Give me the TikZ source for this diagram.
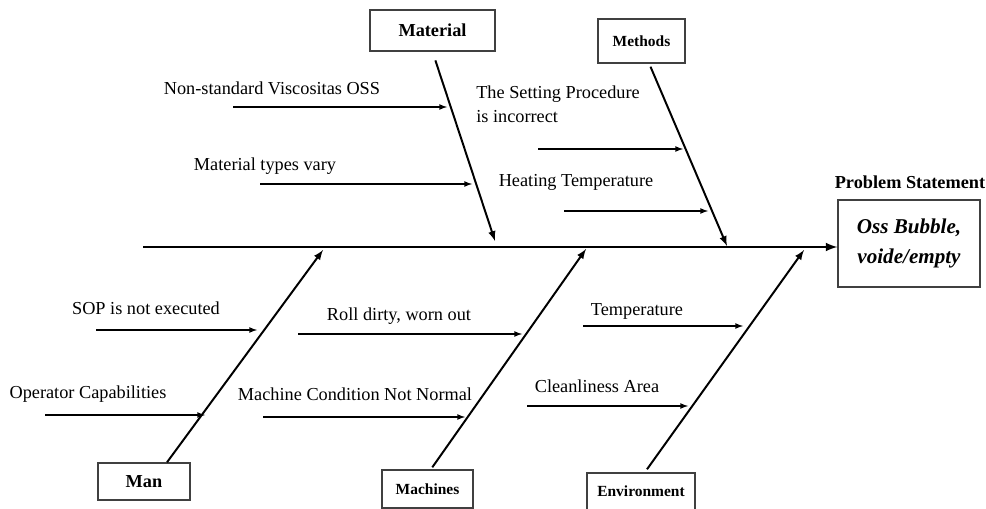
\documentclass[tikz,border=0pt]{standalone}
\usepackage{fontspec}
\setmainfont{Liberation Serif}
\begin{document}
\begin{tikzpicture}[x=0.25mm,y=-0.25mm,-latex,
    head/.style={draw=black!75,line width=1pt,inner sep=0pt,font=\fontsize{13}{15}\selectfont\bfseries},
    smallhead/.style={head,font=\fontsize{11}{13}\selectfont\bfseries},
    cause/.style={inner sep=0pt,font=\fontsize{13}{17}\selectfont},
    spine/.style={line width=1.8pt},
    bone/.style={line width=1.4pt},
    rib/.style={line width=0.9pt}]
  \useasboundingbox (0,0) rectangle (986,509);
  % heads
  \node[head,minimum width=31.25mm,minimum height=10.25mm] (material) at (432.5,30.5) {Material};
  \node[smallhead,minimum width=21.75mm,minimum height=11mm] (methods) at (641.5,41) {Methods};
  \node[head,minimum width=23mm,minimum height=9.25mm] (man) at (144,481.5) {Man};
  \node[smallhead,minimum width=22.75mm,minimum height=9.5mm] (machines) at (427.5,489) {Machines};
  \node[smallhead,minimum width=27mm,minimum height=9.25mm] (environment) at (641,491.5) {Environment};
  \node[head,minimum width=35.5mm,minimum height=21.75mm,align=center,
        font=\fontsize{15}{21}\selectfont\bfseries\itshape] (problem) at (909,243.5) {Oss Bubble,\\voide/empty};
  \node[cause,font=\fontsize{13}{15}\selectfont\bfseries] (statement) at (910,182) {Problem Statement};
  % spine
  \coordinate (tail) at (143,247);
  \draw[spine] (tail) -- (tail -| problem.west);
  % bones
  \coordinate (materialE) at (495,241);
  \coordinate (methodsE) at (727,246);
  \coordinate (manE) at (323,250);
  \coordinate (machinesE) at (586,249);
  \coordinate (environmentE) at (804,250);
  \draw[bone,shorten <=2.3mm] (material.south) -- (materialE);
  \draw[bone] ([xshift=2.25mm,yshift=-0.75mm]methods.south) -- (methodsE);
  \draw[bone] ([xshift=5.75mm]man.north) -- (manE);
  \draw[bone] ([xshift=1.2mm,yshift=0.5mm]machines.north) -- (machinesE);
  \draw[bone] ([xshift=1.5mm,yshift=0.75mm]environment.north) -- (environmentE);
  % material causes
  \node[cause] (viscositas) at (272,88) {Non-standard Viscositas OSS};
  \node[cause] (types) at (265,166) {Material types vary};
  \coordinate (viscositasS) at (233,107);
  \coordinate (viscositasE) at (447,107);
  \coordinate (typesS) at (260,184);
  \coordinate (typesE) at (472,184);
  \draw[rib] (viscositasS) -- (viscositasE);
  \draw[rib] (typesS) -- (typesE);
  % methods causes
  \node[cause,align=left,anchor=west] (setting) at (476,104) {The Setting Procedure\\is incorrect};
  \node[cause] (heating) at (576,182) {Heating Temperature};
  \coordinate (settingS) at (538,149);
  \coordinate (settingE) at (683,149);
  \coordinate (heatingS) at (564,211);
  \coordinate (heatingE) at (708,211);
  \draw[rib] (settingS) -- (settingE);
  \draw[rib] (heatingS) -- (heatingE);
  % man causes
  \node[cause] (sop) at (146,308) {SOP is not executed};
  \node[cause] (operator) at (88,394) {Operator Capabilities};
  \coordinate (sopS) at (96,330);
  \coordinate (sopE) at (257,330);
  \coordinate (operatorS) at (45,415);
  \coordinate (operatorE) at (205,415);
  \draw[rib] (sopS) -- (sopE);
  \draw[rib] (operatorS) -- (operatorE);
  % machines causes
  \node[cause] (roll) at (399,316) {Roll dirty, worn out};
  \node[cause] (condition) at (355,394) {Machine Condition Not Normal};
  \coordinate (rollS) at (298,334);
  \coordinate (rollE) at (522,334);
  \coordinate (conditionS) at (263,417);
  \coordinate (conditionE) at (465,417);
  \draw[rib] (rollS) -- (rollE);
  \draw[rib] (conditionS) -- (conditionE);
  % environment causes
  \node[cause] (temperature) at (637,311) {Temperature};
  \node[cause] (cleanliness) at (597,386) {Cleanliness Area};
  \coordinate (temperatureS) at (583,326);
  \coordinate (temperatureE) at (743,326);
  \coordinate (cleanlinessS) at (527,406);
  \coordinate (cleanlinessE) at (688,406);
  \draw[rib] (temperatureS) -- (temperatureE);
  \draw[rib] (cleanlinessS) -- (cleanlinessE);
\end{tikzpicture}
\end{document}
